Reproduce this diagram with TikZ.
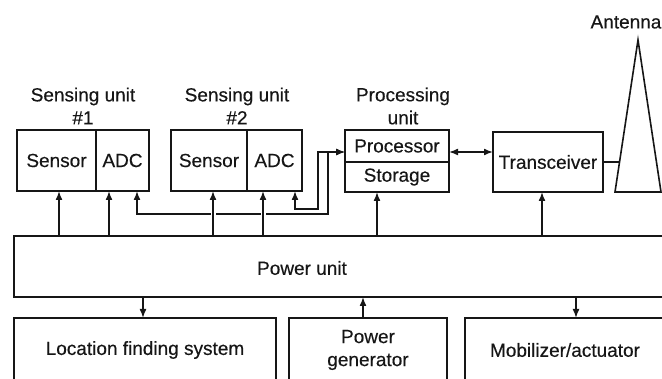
\documentclass[tikz,border=0pt]{standalone}
\usepackage{fontspec}
\setmainfont[FakeBold=0.35]{Liberation Sans}
\usetikzlibrary{arrows.meta,positioning}
\definecolor{ink}{RGB}{22,22,22}
\newcommand{\figfont}{\fontsize{19}{23}\selectfont}
\tikzset{
  unit/.style={draw=ink,line width=1.6pt,inner sep=0pt,outer sep=0pt,align=center,font=\figfont,text=ink},
  txt/.style={inner sep=0pt,align=center,font=\figfont,text=ink},
  wire/.style={draw=ink,line width=1.6pt},
  arr/.style={wire,-{Latex[length=9pt,width=7pt]}},
  dbl/.style={wire,{Latex[length=9pt,width=7pt]}-{Latex[length=9pt,width=7pt]}},
  hop/.style={preaction={draw=white,line width=5pt,arrows=-,shorten <=14pt,shorten >=14pt}}
}

\begin{document}
\begin{tikzpicture}[x=1pt,y=-1pt]
  \useasboundingbox (0,0) rectangle (662,379);
  \clip (0,0) rectangle (662,379);

  % sensing units
  \node[unit,minimum width=79,minimum height=61] (sen1) at (56.5,160.5) {Sensor};
  \node[unit,minimum width=53,minimum height=61,right=0pt of sen1] (adc1) {ADC};
  \node[unit,minimum width=76,minimum height=61] (sen2) at (209,160.5) {Sensor};
  \node[unit,minimum width=55,minimum height=61,right=0pt of sen2] (adc2) {ADC};
  \node[txt] (sul1) at (83,106) {Sensing unit\\\#1};
  \node[txt] (sul2) at (237,106) {Sensing unit\\\#2};

  % processing unit
  \node[unit,minimum width=104,minimum height=32] (proc) at (397,146) {Processor};
  \node[unit,minimum width=104,minimum height=30,below=0pt of proc] (stor) {Storage};
  \node[txt] (pul) at (403,106) {Processing\\unit};
  \coordinate (pin) at ([yshift=10pt]proc.south west);
  \coordinate (pout) at ([yshift=10pt]proc.south east);

  % transceiver and antenna
  \node[unit,minimum width=110,minimum height=60] (trx) at (548,162) {Transceiver};
  \coordinate (antL) at (615,192);
  \coordinate (antT) at (638,40);
  \coordinate (antR) at (661,192);
  \coordinate (feed) at (619.5,162);
  \draw[wire] (antL) -- (antT) -- (antR) -- cycle;
  \node[txt] (antlab) at (626,22) {Antenna};

  % power unit and the row below
  \node[unit,minimum width=720,minimum height=61,anchor=north west] (power) at (14,236) {};
  \node[txt] (powlab) at (302,268) {Power unit};
  \node[unit,minimum width=262,minimum height=64] (loc) at (145,350) {Location finding system};
  \node[unit,minimum width=158,minimum height=64] (gen) at (368,350) {Power\\generator};
  \node[unit,minimum width=200,minimum height=64] (mob) at (565,350) {Mobilizer/actuator};

  % data paths
  \draw[dbl] (137,0 |- adc1.south) |- (328,214) |- (pin);
  \draw[dbl] (295,0 |- adc2.south) |- (318,209) |- (pin);
  \draw[dbl] (pout) -- (pout -| trx.west);
  \draw[wire] (trx.east) -- (feed);

  % power lines
  \foreach \x/\n in {59/sen1,109/adc1,377/stor,542/trx}
    \draw[arr] (\x,0 |- power.north) -- (\x,0 |- \n.south);
  \foreach \x/\n in {213/sen2,263/adc2}
    \draw[arr,hop] (\x,0 |- power.north) -- (\x,0 |- \n.south);
  \draw[arr] (143,0 |- power.south) -- (143,0 |- loc.north);
  \draw[arr] (576,0 |- power.south) -- (576,0 |- mob.north);
  \draw[arr] (363,0 |- gen.north) -- (363,0 |- power.south);
\end{tikzpicture}
\end{document}
